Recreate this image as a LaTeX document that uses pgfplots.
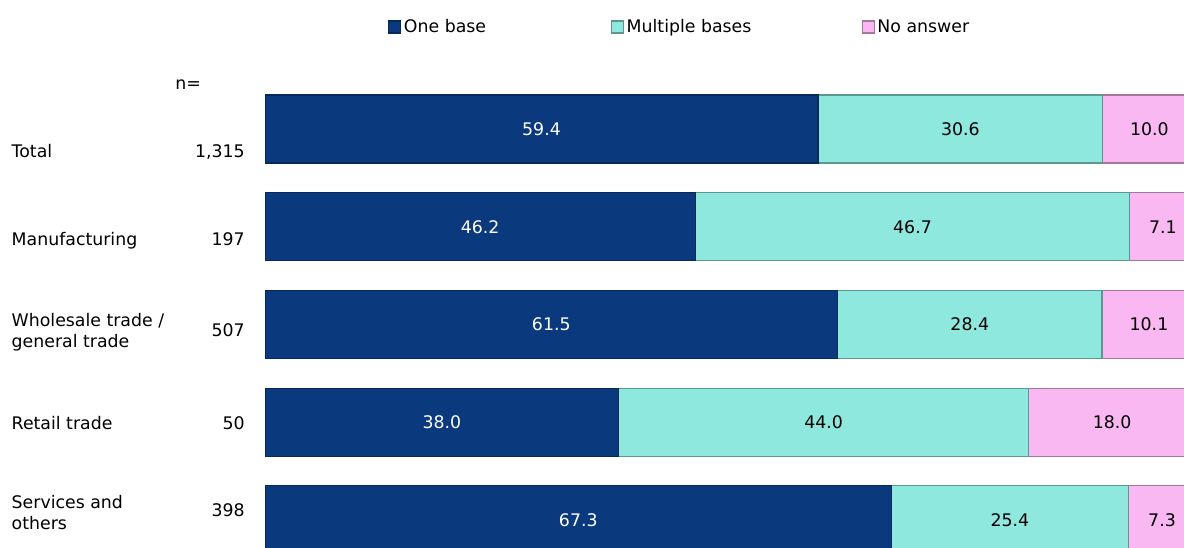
\documentclass[border=0pt]{standalone}
\usepackage{pgfplots}
\usepackage{pgfplotstable}
\pgfplotsset{compat=1.18}
\usepackage{fontspec}
\setmainfont{DejaVu Sans}

\definecolor{navy}{RGB}{10,58,125}
\definecolor{aqua}{RGB}{142,232,222}
\definecolor{pinkish}{RGB}{250,184,242}

% shares in percent per industry
\pgfplotstableread{
row one multi none
0 59.4 30.6 10.0
1 46.2 46.7 7.1
2 61.5 28.4 10.1
3 38.0 44.0 18.0
4 67.3 25.4 7.3
}\shares

\begin{document}
\fontsize{13pt}{15.75pt}\selectfont
\begin{tikzpicture}
\useasboundingbox (0,0) rectangle (888pt,410.25pt);
\begin{axis}[
  at={(198.75pt,350.14pt)}, anchor=north west,
  scale only axis, width=698.25pt, height=366.375pt,
  xbar stacked, bar width=51pt,
  xmin=0, xmax=100, ymin=-0.5, ymax=4.5, y dir=reverse,
  axis line style={draw=none}, major tick style={draw=none},
  xtick=\empty,
  ytick={0.235,1.146,2.083,3.009,3.925},
  yticklabels={
    {\makebox[174.75pt][l]{Total\hfill 1,315}},
    {\makebox[174.75pt][l]{Manufacturing\hfill 197}},
    {\makebox[174.75pt][l]{\parbox[c]{130pt}{Wholesale trade /\\general trade}\hfill 507}},
    {\makebox[174.75pt][l]{Retail trade\hfill 50}},
    {\makebox[174.75pt][l]{\parbox[c]{130pt}{Services and\\others}\hfill 398}}
  },
  yticklabel style={anchor=east, inner sep=0pt, xshift=-15pt},
  /pgf/number format/assume math mode=true,
  point meta=explicit,
  nodes near coords={\pgfmathprintnumber[fixed,fixed zerofill,precision=1]{\pgfplotspointmeta}},
  % centred in each stacked segment
  every node near coord/.append style={anchor=center},
  legend columns=3,
  legend style={at={(0.1321,1.1088)}, anchor=west, draw=none, inner sep=0pt, fill=none},
  legend cell align=left,
  legend image code/.code={\filldraw[#1] (0pt,-4.5pt) rectangle (9pt,4.5pt);},
]
\addplot[fill=navy, draw=navy!70!black, line width=0.8pt,
  every node near coord/.append style={text=white}]
  table[x=one, y=row, meta=one] {\shares};
\addplot[fill=aqua, draw=aqua!65!black, line width=0.8pt,
  every node near coord/.append style={text=black}]
  table[x=multi, y=row, meta=multi] {\shares};
\addplot[fill=pinkish, draw=pinkish!65!black, line width=0.8pt,
  every node near coord/.append style={text=black}]
  table[x=none, y=row, meta=none] {\shares};
\legend{\makebox[153.25pt][l]{One base}, \makebox[174.25pt][l]{Multiple bases}, No answer}
\end{axis}
\node[anchor=west, inner sep=0pt] at (131.25pt,346.5pt) {n=};
\end{tikzpicture}
\end{document}
